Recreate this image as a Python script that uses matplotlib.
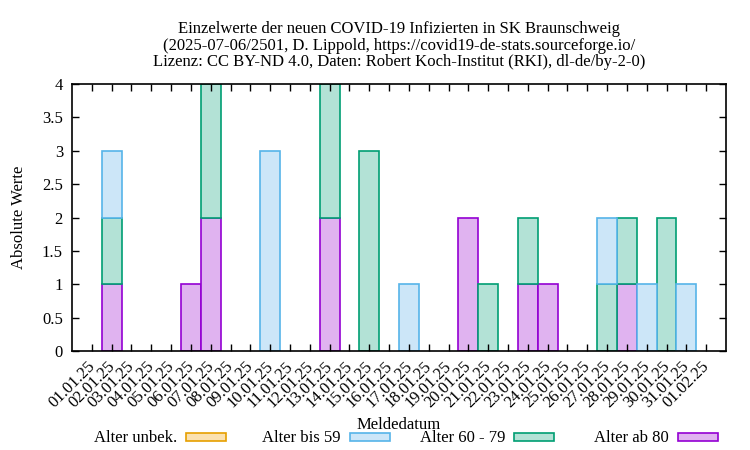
import numpy as np
import pandas as pd
import matplotlib
matplotlib.use('Agg')
import matplotlib.pyplot as plt
import matplotlib.transforms as mtransforms
from matplotlib.patches import Rectangle
from matplotlib.ticker import MultipleLocator, FuncFormatter

# daily values, 01.01.25 - 01.02.25
dates = pd.date_range('2025-01-01', '2025-02-01', freq='D')
tick_labels = [d.strftime('%d.%m.%y') for d in dates]

alter_unbek = [0, 0, 0, 0, 0, 0, 0, 0, 0, 0, 0, 0, 0, 0, 0, 0,
               0, 0, 0, 0, 0, 0, 0, 0, 0, 0, 0, 0, 0, 0, 0, 0]
alter_bis59 = [0, 1, 0, 0, 0, 0, 0, 0, 0, 3, 0, 0, 0, 0, 0, 0,
               1, 0, 0, 0, 0, 0, 0, 0, 0, 0, 1, 0, 1, 0, 1, 0]
alter_60_79 = [0, 1, 0, 0, 0, 0, 2, 0, 0, 0, 0, 0, 2, 0, 3, 0,
               0, 0, 0, 0, 1, 0, 1, 0, 0, 0, 1, 1, 0, 2, 0, 0]
alter_ab80 = [0, 1, 0, 0, 0, 1, 2, 0, 0, 0, 0, 0, 2, 0, 0, 0,
              0, 0, 0, 2, 0, 0, 1, 1, 0, 0, 0, 1, 0, 0, 0, 0]

series = [
    ('Alter unbek.', alter_unbek, '#fbe1b0', '#e69f00'),
    ('Alter bis 59', alter_bis59, '#cce6f8', '#56b4e9'),
    ('Alter 60 - 79', alter_60_79, '#b3e2d6', '#009e73'),
    ('Alter ab 80', alter_ab80, '#e0b3f0', '#9400d3'),
]

plt.rcParams['font.family'] = ['Liberation Serif', 'DejaVu Serif']
plt.rcParams['font.size'] = 12

W, H = 750, 450
fig = plt.figure(figsize=(W / 100, H / 100), dpi=100)
ax = fig.add_axes([72 / W, 1 - 351 / H, 654 / W, 267 / H])

x = np.arange(len(dates))
# stacking: ab 80 at the bottom, then 60-79, bis 59, unbek.
bottom = np.zeros(len(dates))
for name, vals, fc, ec in reversed(series):
    vals = np.array(vals, dtype=float)
    mask = vals > 0
    ax.bar(x[mask], vals[mask], width=1.0, bottom=bottom[mask],
           facecolor=fc, edgecolor=ec, linewidth=1.2)
    bottom = bottom + vals

ax.set_xlim(-1, 32)
ax.set_ylim(0, 4)
ax.yaxis.set_major_locator(MultipleLocator(0.5))
ax.yaxis.set_major_formatter(FuncFormatter(lambda v, p: '%g' % v))
ax.set_xticks(x)
ax.set_xticklabels(tick_labels, rotation=45, ha='right', va='top',
                   rotation_mode='anchor')
ax.tick_params(direction='in', top=True, right=True, length=5, width=1,
               labelsize=12)
ax.tick_params(axis='y', pad=6.5)
ax.tick_params(axis='x', pad=4)
# nudge rotated date labels a bit left, like gnuplot
shift = mtransforms.ScaledTranslation(-0.05, -0.02, fig.dpi_scale_trans)
for lab in ax.get_xticklabels():
    lab.set_transform(lab.get_transform() + shift)
for s in ax.spines.values():
    s.set_linewidth(1.2)

ax.set_ylabel('Absolute Werte', labelpad=11)
fig.text(399 / W, 1 - 425 / H, 'Meldedatum', ha='center', va='center')

fig.text(399 / W, 1 - 21 / H,
         'Einzelwerte der neuen COVID-19 Infizierten in SK Braunschweig\n'
         '(2025-07-06/2501, D. Lippold, https://covid19-de-stats.sourceforge.io/\n'
         'Lizenz: CC BY-ND 4.0, Daten: Robert Koch-Institut (RKI), dl-de/by-2-0)',
         ha='center', va='top', fontsize=12, linespacing=1.05)

# legend row below the axis label, gnuplot style: text then box
for i, (name, vals, fc, ec) in enumerate(series):
    right = 226 + 164 * i
    fig.patches.append(Rectangle(((right - 40) / W, 1 - 441 / H), 40 / W, 8 / H,
                                 transform=fig.transFigure, facecolor=fc,
                                 edgecolor=ec, linewidth=1.2))
    fig.text((right - 49) / W, 1 - 438 / H, name, ha='right', va='center')

fig.savefig('out.png', dpi=100)
